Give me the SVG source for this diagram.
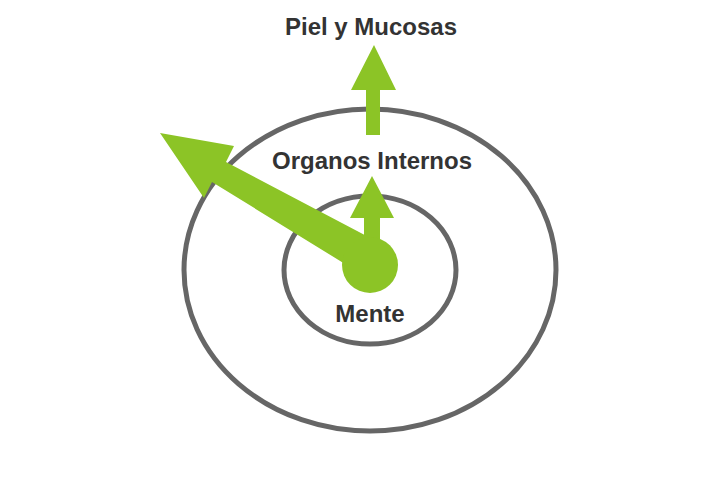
<svg xmlns="http://www.w3.org/2000/svg" width="720" height="480" viewBox="0 0 720 480">
<style>
.ring{fill:none;stroke:#666;stroke-width:5}
.g{fill:#8cc426}
.t{font-family:"Liberation Sans",Arial,sans-serif;font-weight:bold;font-size:24px;fill:#333;text-anchor:middle}
</style>
<rect width="720" height="480" fill="#fff"/>
<g id="outer"><ellipse class="ring" cx="370" cy="270" rx="186" ry="161"/></g>
<g id="inner"><ellipse class="ring" cx="370" cy="270" rx="86" ry="74"/></g>
<g id="connectors">
<polygon class="g" points="362,260 378,242 226,162 234,146 160,133 204,198 212,182 358,272"/>
<polygon class="g" points="364,262 364,218 350,218 372,176 394,218 380,218 380,262"/>
<polygon class="g" points="366,135 366,90 351,90 374,45 396,90 380,90 380,135"/>
</g>
<g id="mente-node"><circle class="g" cx="370" cy="265" r="28"/><text class="t" x="370" y="322">Mente</text></g>
<g id="organos"><text class="t" x="372" y="169">Organos Internos</text></g>
<g id="piel"><text class="t" x="371" y="35">Piel y Mucosas</text></g>
</svg>
